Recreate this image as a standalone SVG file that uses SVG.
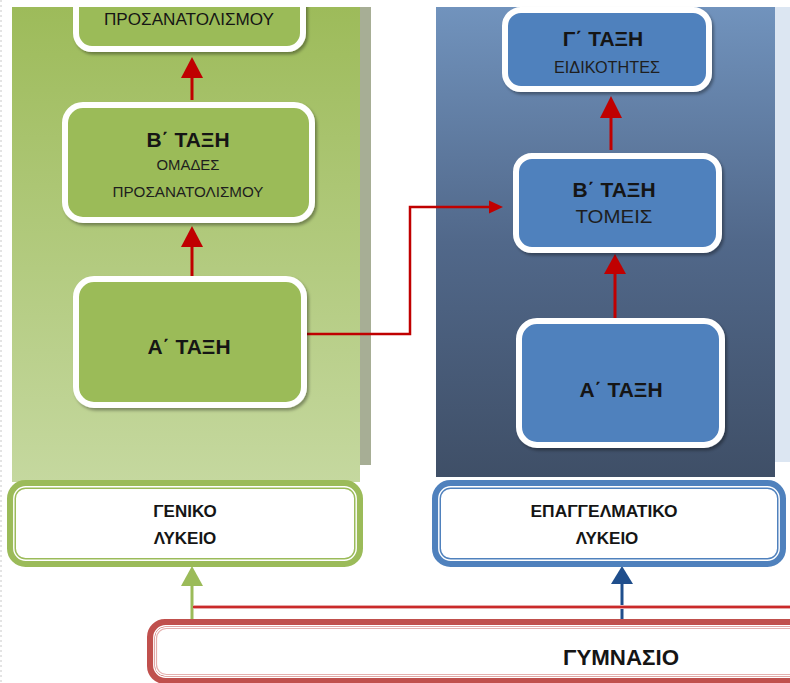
<svg xmlns="http://www.w3.org/2000/svg" width="790" height="683" viewBox="0 0 790 683">
<defs>
<linearGradient id="gGreen" x1="0" y1="0" x2="0" y2="1">
<stop offset="0" stop-color="#9dbb5a"/>
<stop offset="1" stop-color="#c5d89f"/>
</linearGradient>
<linearGradient id="gBlue" x1="0" y1="0" x2="0" y2="1">
<stop offset="0" stop-color="#7193bd"/>
<stop offset="0.5" stop-color="#51688a"/>
<stop offset="1" stop-color="#3f4f67"/>
</linearGradient>
<filter id="sh" x="-10%" y="-10%" width="125%" height="130%">
<feDropShadow dx="2" dy="2.5" stdDeviation="1.5" flood-color="#000" flood-opacity="0.35"/>
</filter>
<style>
.gnode{fill:#9bbb59;stroke:#fff;stroke-width:6;filter:url(#sh)}
.bnode{fill:#4f81bd;stroke:#fff;stroke-width:6;filter:url(#sh)}
.t{font-family:"Liberation Sans",Arial,sans-serif;fill:#151515;text-anchor:middle}
.big{font-size:21px;font-weight:bold}
.sub{font-size:15px;fill:#1e1e1e}
.lyk{font-size:17px;font-weight:bold}
.red{stroke:#c00000;stroke-width:3;fill:none}
</style>
</defs>
<rect width="790" height="683" fill="#fff"/>
<g id="panels">
<rect x="359" y="7" width="12" height="458" fill="#a7ae95"/>
<rect x="12" y="7" width="348" height="475" fill="url(#gGreen)"/>
<rect x="775" y="7" width="15" height="455" fill="#dce6f2"/>
<rect x="436" y="7" width="339" height="470" fill="url(#gBlue)"/>
</g>
<g id="connectors">
<line class="red" x1="192" y1="100" x2="192" y2="76"/>
<path d="M181,78 L192,57 L203,78 Z" fill="#c00000"/>
<line class="red" x1="192" y1="276" x2="192" y2="246"/>
<path d="M181,247 L192,226 L203,247 Z" fill="#c00000"/>
<line class="red" x1="611" y1="150" x2="611" y2="117"/>
<path d="M600,118 L611,96 L622,118 Z" fill="#c00000"/>
<line class="red" x1="615" y1="320" x2="615" y2="272"/>
<path d="M604,274 L615,254 L626,274 Z" fill="#c00000"/>
<path d="M303,334 L410,334 L410,207 L490,207" stroke="#c00000" stroke-width="2.5" fill="none"/>
<path d="M489,200.5 L503,207 L489,213.5 Z" fill="#c00000"/>
<line x1="192" y1="620" x2="192" y2="584" stroke="#9bbb59" stroke-width="3"/>
<path d="M181,586 L192,566 L203,586 Z" fill="#9bbb59"/>
<line x1="622" y1="620" x2="622" y2="582" stroke="#1f4e8c" stroke-width="3"/>
<path d="M611,584 L622,566 L633,584 Z" fill="#1f4e8c"/>
<line x1="193" y1="607" x2="790" y2="607" stroke="#e8a8a8" stroke-width="4"/>
<line x1="193" y1="607" x2="790" y2="607" stroke="#c00000" stroke-width="1.6"/>
</g>
<g id="gl-c">
<rect class="gnode" x="76" y="-40" width="227" height="89" rx="16"/>
<text class="t" x="189" y="25" style="font-size:17px" textLength="170" lengthAdjust="spacingAndGlyphs">ΠΡΟΣΑΝΑΤΟΛΙΣΜΟΥ</text>
</g>
<g id="gl-b">
<rect class="gnode" x="65" y="105" width="247" height="115" rx="18"/>
<text class="t big" x="188" y="147">Β΄ ΤΑΞΗ</text>
<text class="t sub" x="188" y="170" textLength="63" lengthAdjust="spacingAndGlyphs">ΟΜΑΔΕΣ</text>
<text class="t sub" x="188" y="197" textLength="151" lengthAdjust="spacingAndGlyphs">ΠΡΟΣΑΝΑΤΟΛΙΣΜΟΥ</text>
</g>
<g id="gl-a">
<rect class="gnode" x="76" y="279" width="228" height="126" rx="18"/>
<text class="t big" x="189" y="354">Α΄ ΤΑΞΗ</text>
</g>
<rect x="0" y="0" width="790" height="7" fill="#fff"/>
<g id="ep-c">
<rect class="bnode" x="505" y="10" width="204" height="79" rx="16"/>
<text class="t big" x="603" y="46">Γ΄ ΤΑΞΗ</text>
<text class="t sub" x="607" y="73" style="font-size:16px" textLength="106" lengthAdjust="spacingAndGlyphs">ΕΙΔΙΚΟΤΗΤΕΣ</text>
</g>
<g id="ep-b">
<rect class="bnode" x="516" y="156" width="203" height="94" rx="16"/>
<text class="t big" x="614" y="197">Β΄ ΤΑΞΗ</text>
<text class="t sub" x="614" y="223" style="font-size:18.5px" textLength="77" lengthAdjust="spacingAndGlyphs">ΤΟΜΕΙΣ</text>
</g>
<g id="ep-a">
<rect class="bnode" x="519" y="321" width="203" height="124" rx="18"/>
<text class="t big" x="621" y="397">Α΄ ΤΑΞΗ</text>
</g>
<g id="geniko">
<rect x="11.5" y="484.5" width="347" height="78" rx="14" fill="#fff" stroke="#9bbb59" stroke-width="9"/>
<rect x="13.8" y="486.8" width="342.4" height="73.4" rx="12" fill="none" stroke="#fff" stroke-width="1.4"/>
<text class="t lyk" x="185" y="517">ΓΕΝΙΚΟ</text>
<text class="t lyk" x="185" y="544">ΛΥΚΕΙΟ</text>
</g>
<g id="epal">
<rect x="436.5" y="484.5" width="345" height="78" rx="14" fill="#fff" stroke="#4f81bd" stroke-width="9"/>
<rect x="438.8" y="486.8" width="340.4" height="73.4" rx="12" fill="none" stroke="#fff" stroke-width="1.4"/>
<text class="t lyk" x="604" y="517" textLength="147" lengthAdjust="spacingAndGlyphs">ΕΠΑΓΓΕΛΜΑΤΙΚΟ</text>
<text class="t lyk" x="607" y="544">ΛΥΚΕΙΟ</text>
</g>
<g id="gymnasio">
<rect x="151" y="623" width="680" height="57" rx="14" fill="#fff" stroke="#c0504d" stroke-width="8"/>
<rect x="153.8" y="625.8" width="674.4" height="51.4" rx="12" fill="none" stroke="#fff" stroke-width="1.4"/>
<rect x="156.5" y="628.5" width="669" height="46" rx="10" fill="none" stroke="#e6b0ae" stroke-width="1.2"/>
<text class="t" x="621" y="665" style="font-size:22px;font-weight:bold" textLength="116" lengthAdjust="spacingAndGlyphs">ΓΥΜΝΑΣΙΟ</text>
</g>
<line x1="1" y1="0" x2="1" y2="683" stroke="#c8c8c8" stroke-width="1" stroke-dasharray="2,3"/>
</svg>
